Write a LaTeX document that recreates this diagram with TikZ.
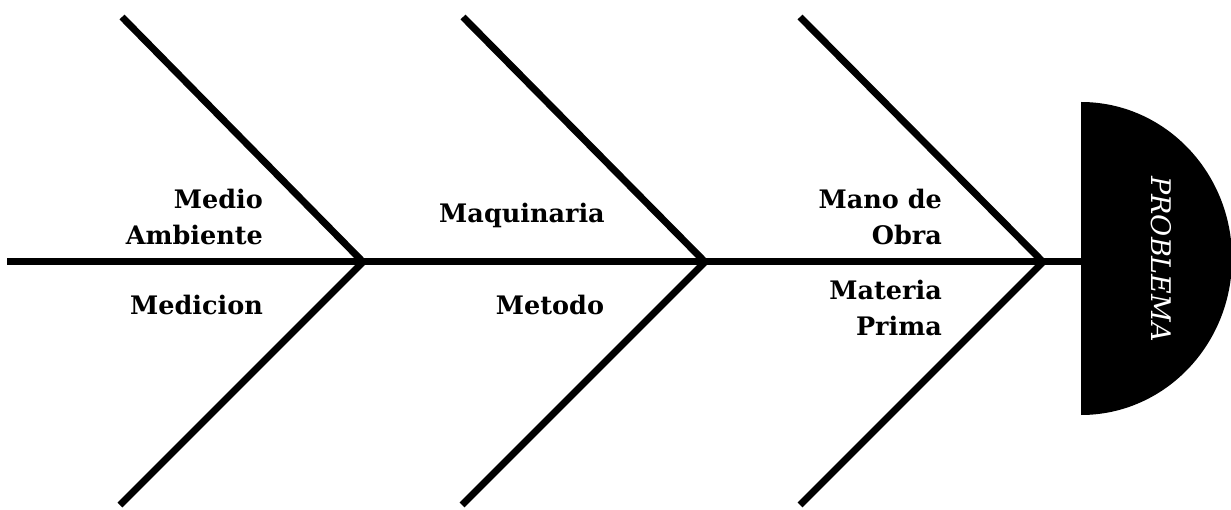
\documentclass[tikz,border=0pt]{standalone}
\usepackage{fontspec}
\setmainfont{DejaVu Serif}
\usepackage{tikz}
\usetikzlibrary{positioning,calc}

\begin{document}
\begin{tikzpicture}[x=1pt,y=-1pt,
  bone/.style={line width=7pt},
  cause/.style={font=\fontsize{25.5}{36}\selectfont\bfseries, align=right, inner sep=0pt}]
\useasboundingbox (0,0) rectangle (1231,510);
% joints on the spine
\coordinate (tail) at (7,262);
\coordinate (j1) at (363,262);
\coordinate (j2) at (705,262);
\coordinate (j3) at (1043,262);
\coordinate (head) at (1081,262);
% head
\fill (1081,102) arc[start angle=-90, end angle=90, x radius=151, y radius=156.5] -- cycle;
\node[white, rotate=-90, font=\fontsize{27}{30}\itshape] (problema) at (1161,259) {PROBLEMA};
% spine and bones
\draw[bone] (tail) -- (head);
\draw[bone] (122,17) -- (j1) -- (120,505);
\draw[bone] (463,17) -- (j2) -- (462,505);
\draw[bone] (800,17) -- (j3) -- (800,505);
% causes
\node[cause, anchor=east] (ambiente) at (263,217) {Medio\\Ambiente};
\node[cause, anchor=east] (medicion) at (263,305) {Medicion};
\node[cause] (maquinaria) at (522,215) {Maquinaria};
\node[cause] (metodo) at (550,305) {Metodo};
\node[cause, anchor=east] (obra) at (942,217) {Mano de\\Obra};
\node[cause, anchor=east] (materia) at (942,308) {Materia\\Prima};
\end{tikzpicture}
\end{document}
